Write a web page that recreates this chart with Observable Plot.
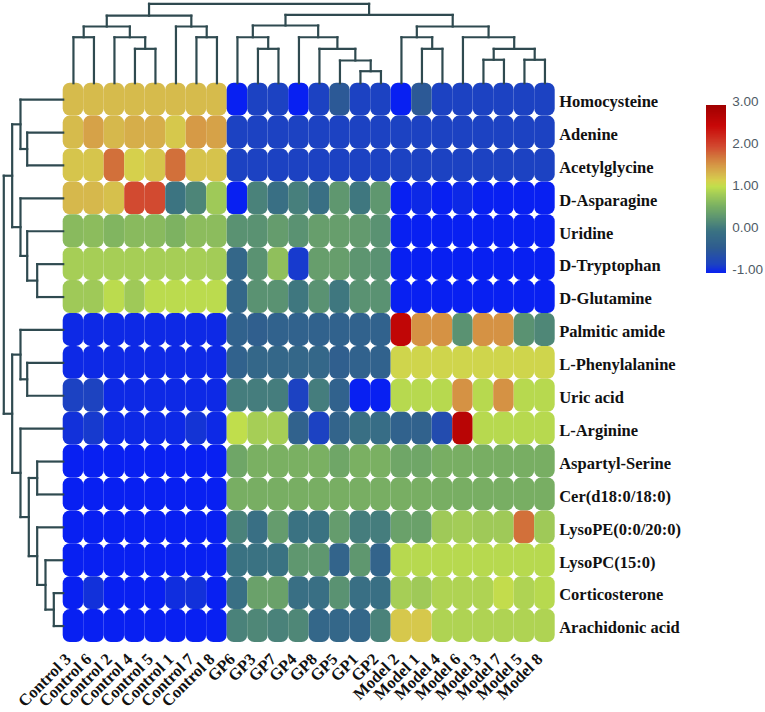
<!DOCTYPE html>
<html><head><meta charset="utf-8">
<script src="https://cdn.jsdelivr.net/npm/d3@7"></script>
<script src="https://cdn.jsdelivr.net/npm/@observablehq/plot@0.6"></script>
<style>body{margin:0;background:#fff}#wrap{position:relative;width:765px;height:712px;background:#fff}</style>
</head><body><div id="wrap"></div>
<script>
const colLabels = ["Control 3","Control 6","Control 2","Control 4","Control 5","Control 1","Control 7","Control 8",
  "GP6","GP3","GP7","GP4","GP8","GP5","GP1","GP2",
  "Model 2","Model 1","Model 4","Model 6","Model 3","Model 7","Model 5","Model 8"];
const rowLabels = ["Homocysteine","Adenine","Acetylglycine","D-Asparagine","Uridine","D-Tryptophan","D-Glutamine",
  "Palmitic amide","L-Phenylalanine","Uric acid","L-Arginine","Aspartyl-Serine","Cer(d18:0/18:0)",
  "LysoPE(0:0/20:0)","LysoPC(15:0)","Corticosterone","Arachidonic acid"];

const homocysteine   = [1.33,1.33,1.33,1.33,1.33,1.33,1.33,1.33, -1.0,-0.8,-0.8,-1.0,-0.8,-0.45,-0.8,-0.8, -1.0,-0.45,-0.8,-0.8,-0.8,-0.8,-0.8,-0.8];
const adenine        = [1.33,1.5,1.35,1.42,1.42,1.25,1.55,1.5, -0.8,-0.8,-0.8,-0.8,-0.8,-0.8,-0.8,-0.8, -0.8,-0.8,-0.8,-0.8,-0.8,-0.8,-0.8,-0.8];
const acetylglycine  = [1.27,1.27,1.8,1.2,1.27,1.8,1.28,1.28, -0.8,-0.8,-0.8,-0.8,-0.8,-0.8,-0.8,-0.8, -0.8,-0.8,-0.8,-0.8,-0.8,-0.8,-0.8,-0.8];
const dAsparagine    = [1.35,1.35,1.3,2.0,2.0,0.02,0.18,0.85, -1.0,0.15,-0.05,0.12,-0.05,0.35,0.05,0.35, -1.0,-0.95,-1.0,-0.95,-1.0,-1.0,-1.0,-1.0];
const uridine        = [0.7,0.72,0.65,0.7,0.7,0.62,0.72,0.72, 0.3,0.3,0.4,0.3,0.42,0.42,0.38,0.3, -1.0,-1.0,-1.0,-1.0,-1.0,-1.0,-1.0,-1.0];
const dTryptophan    = [0.9,0.9,0.9,0.9,0.9,0.9,0.9,0.88, -0.2,0.3,0.75,-0.85,0.42,0.42,0.33,0.3, -1.0,-1.0,-1.0,-1.0,-1.0,-1.0,-1.0,-1.0];
const dGlutamine     = [0.85,0.85,1.02,0.85,1.02,1.02,1.02,1.02, -0.2,0.3,0.3,0.05,0.3,0.05,0.3,0.3, -1.0,-1.0,-1.0,-1.0,-1.0,-1.0,-1.0,-1.0];
const palmiticAmide  = [-0.95,-0.95,-0.95,-0.95,-0.95,-0.95,-0.95,-0.95, -0.3,-0.35,-0.3,-0.3,-0.3,-0.3,-0.3,-0.3, 2.6,1.6,1.6,0.3,1.6,1.6,0.3,0.2];
const lPhenylalanine = [-0.95,-0.95,-0.95,-0.95,-0.95,-0.95,-0.95,-0.95, -0.3,-0.2,-0.2,-0.2,-0.2,-0.35,-0.3,-0.3, 1.15,1.15,1.15,1.15,1.15,1.15,1.15,1.15];
const uricAcid       = [-0.8,-0.78,-0.95,-0.95,-0.95,-0.95,-0.95,-0.95, 0.1,0.1,0.1,-0.8,0.1,-0.3,-1.0,-1.0, 1.0,1.0,1.0,1.6,1.0,1.6,1.0,1.0];
const lArginine      = [-0.9,-0.85,-0.95,-0.95,-0.95,-0.95,-0.88,-0.95, 1.05,0.9,0.9,-0.3,-0.8,-0.25,-0.05,-0.1, -0.3,-0.3,-0.65,2.7,1.0,1.0,1.0,1.0];
const aspartylSerine = [-1.0,-1.0,-1.0,-1.0,-1.0,-1.0,-1.0,-1.0, 0.5,0.6,0.6,0.6,0.6,0.5,0.6,0.6, 0.5,0.5,0.58,0.58,0.58,0.58,0.58,0.58];
const cer            = [-1.0,-1.0,-1.0,-1.0,-1.0,-1.0,-1.0,-1.0, 0.58,0.58,0.58,0.58,0.58,0.58,0.58,0.58, 0.58,0.58,0.58,0.58,0.58,0.58,0.58,0.58];
const lysoPE         = [-1.0,-1.0,-1.0,-1.0,-1.0,-1.0,-1.0,-1.0, 0.15,-0.05,0.4,0.0,0.0,0.4,0.1,0.1, 0.45,0.45,0.85,0.88,0.85,0.85,1.8,0.85];
const lysoPC         = [-1.0,-1.0,-1.0,-1.0,-1.0,-1.0,-1.0,-1.0, 0.0,0.0,0.0,0.35,0.35,-0.25,0.35,-0.25, 1.0,1.0,1.0,1.0,1.0,1.0,1.0,1.0];
const corticosterone = [-1.0,-0.9,-1.0,-1.0,-1.0,-0.92,-0.9,-1.0, -0.05,0.45,0.45,-0.05,-0.05,0.3,-0.05,-0.05, 0.9,0.85,0.95,0.95,0.95,1.07,0.95,1.0];
const arachidonic    = [-1.0,-1.0,-1.0,-1.0,-1.0,-1.0,-1.0,-1.0, 0.15,0.2,0.15,0.2,-0.2,-0.2,-0.2,0.15, 1.25,1.25,0.95,0.95,0.95,0.95,0.95,0.95];
const rowValues = [homocysteine, adenine, acetylglycine, dAsparagine, uridine, dTryptophan, dGlutamine,
  palmiticAmide, lPhenylalanine, uricAcid, lArginine, aspartylSerine, cer, lysoPE, lysoPC, corticosterone, arachidonic];

// dendrograms: [height, left, right], height relative to root = 1
const colTree = [1.0,
  [0.85,
    [0.714, [0.579, "Control 3", "Control 6"], [0.579, "Control 2", [0.433, "Control 4", "Control 5"]]],
    [0.714, "Control 1", [0.579, "Control 7", "Control 8"]]],
  [0.86,
    [0.727, [0.579, "GP6", [0.433, "GP3", "GP7"]], [0.579, "GP4", [0.433, "GP8", [0.286, "GP5", [0.151, "GP1", "GP2"]]]]],
    [0.714, [0.579, "Model 2", [0.433, "Model 1", "Model 4"]], [0.579, "Model 6", [0.433, [0.295, "Model 3", "Model 7"], [0.295, "Model 5", "Model 8"]]]]]];
const rowTree = [1.0,
  [0.859,
    [0.719, "Homocysteine", [0.606, "Adenine", "Acetylglycine"]],
    [0.719, "D-Asparagine", [0.606, "Uridine", [0.438, "D-Tryptophan", "D-Glutamine"]]]],
  [0.859,
    [0.719, "Palmitic amide", [0.606, "L-Phenylalanine", "Uric acid"]],
    [0.719, "L-Arginine", [0.579, [0.438, "Aspartyl-Serine", "Cer(d18:0/18:0)"],
      [0.438, "LysoPE(0:0/20:0)", [0.298, "LysoPC(15:0)", [0.158, "Corticosterone", "Arachidonic acid"]]]]]]];

const legendTicks = [3, 2, 1, 0, -1];
const colorStops = [-1.0, -0.8, -0.4, 0.0, 0.3, 0.6, 0.9, 1.05, 1.2, 1.35, 1.55, 1.8, 2.0, 2.5, 3.0];
const colorRange = ["#0820f2","#1c42c2","#2e5c90","#3a7282","#5a9272","#7ab062","#a6ce56","#c0de4c",
  "#d6d04c","#d6b84c","#d69a46","#d2703a","#d24a30","#c80808","#a00000"];

const colorOpts = {type: "linear", domain: colorStops, range: colorRange, interpolate: "rgb"};
const cells = rowLabels.flatMap((r, i) => colLabels.map((c, j) => ({row: r, col: c, ri: i, ci: j, v: rowValues[i][j]})));

function segs(tree, pos, out) {
  if (typeof tree === "string") return {p: pos(tree), h: 0};
  const [h, a, b] = tree;
  const A = segs(a, pos, out), B = segs(b, pos, out);
  out.push({p1: A.p, h1: A.h, p2: A.p, h2: h});
  out.push({p1: B.p, h1: B.h, p2: B.p, h2: h});
  out.push({p1: A.p, h1: h, p2: B.p, h2: h});
  return {p: (A.p + B.p) / 2, h};
}
const topSegs = []; segs(colTree, n => colLabels.indexOf(n) + 0.5, topSegs);
const leftSegs = []; segs(rowTree, n => rowLabels.indexOf(n) + 0.5, leftSegs);
const topSpan = 2.413, leftSpan = 2.898;
const dendroColor = "#2f4a50";
const serif = "'Liberation Serif', 'Times New Roman', serif";

const chart = Plot.plot({
  width: 765, height: 712,
  x: {type: "linear", domain: [0, 24], range: [62.7, 554.7], axis: null},
  y: {type: "linear", domain: [0, 17], range: [82.7, 642], axis: null},
  color: colorOpts,
  style: {background: "#fff"},
  marks: [
    Plot.rect(cells, {x1: d => d.ci, x2: d => d.ci + 1, y1: d => d.ri, y2: d => d.ri + 1, fill: "v", rx: 7, ry: 7}),
    Plot.link(topSegs, {x1: "p1", x2: "p2", y1: d => -d.h1 * topSpan, y2: d => -d.h2 * topSpan,
      stroke: dendroColor, strokeWidth: 2.2, strokeLinecap: "square"}),
    Plot.link(leftSegs, {y1: "p1", y2: "p2", x1: d => -d.h1 * leftSpan, x2: d => -d.h2 * leftSpan,
      stroke: dendroColor, strokeWidth: 2.2, strokeLinecap: "square"}),
    Plot.text(rowLabels, {x: 24, y: (d, i) => i + 0.5, text: d => d, textAnchor: "start", dx: 4, dy: 2,
      fontFamily: serif, fontWeight: "bold", fontSize: 16.5, fill: "#111"}),
    Plot.text(colLabels, {x: (d, i) => i + 0.5, y: 17, text: d => d, rotate: -45, textAnchor: "end", dx: -5, dy: 14,
      fontFamily: serif, fontWeight: "bold", fontSize: 16.5, fill: "#111"})
  ]
});

const legendSteps = d3.range(-1, 3, 0.01);
const legend = Plot.plot({
  width: 76, height: 200,
  x: {type: "linear", domain: [0, 1], range: [15.7, 35.7], axis: null},
  y: {type: "linear", domain: [-1, 3], range: [183, 15], axis: null},
  color: colorOpts,
  marks: [
    Plot.rect(legendSteps, {x1: 0, x2: 1, y1: d => d, y2: d => d + 0.013, fill: d => d + 0.005, shapeRendering: "crispEdges"}),
    Plot.text(legendTicks, {x: 1, y: d => d, text: d => d.toFixed(2), dx: 6, dy: -4, textAnchor: "start",
      fontFamily: "'Liberation Sans', Arial, sans-serif", fontSize: 13.5, fill: "#4f5b66"})
  ]
});
legend.style.position = "absolute"; legend.style.left = "690px"; legend.style.top = "90px";
const wrap = document.getElementById("wrap");
wrap.appendChild(chart);
wrap.appendChild(legend);
</script></body></html>
